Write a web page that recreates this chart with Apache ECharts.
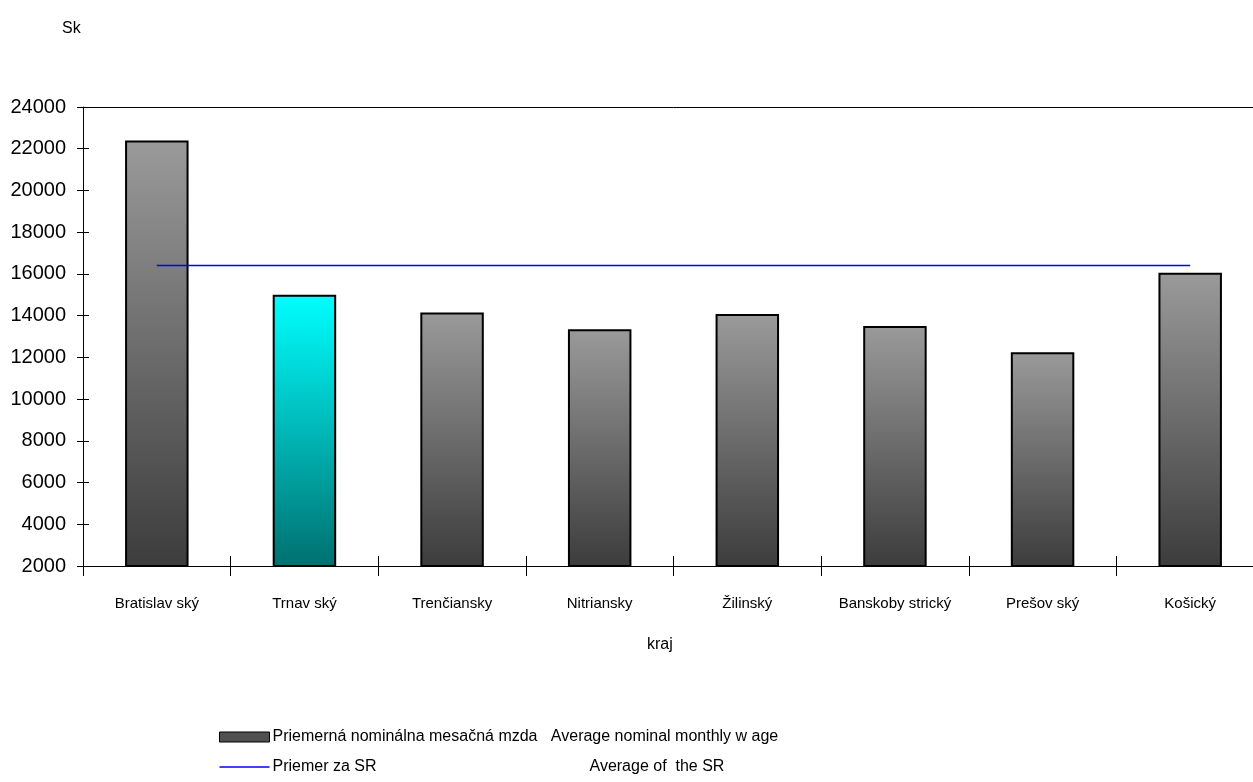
<!DOCTYPE html>
<html><head><meta charset="utf-8">
<script src="https://cdn.jsdelivr.net/npm/echarts@6/dist/echarts.min.js"></script>
<style>html,body{margin:0;padding:0;background:#fff;overflow:hidden;width:1253px;height:782px}#c{width:1264px;height:782px}</style>
</head><body><div id="c"></div>
<script>
const categories = ['Bratislav ský','Trnav ský','Trenčiansky','Nitriansky','Žilinský','Banskoby strický','Prešov ský','Košický'];
const wages = [22400, 15000, 14150, 13350, 14080, 13500, 12250, 16050];
const srAverage = [16400, 16400, 16400, 16400, 16400, 16400, 16400, 16400];
const yTicks = {min: 2000, max: 24000, interval: 2000};
const highlightIndex = 1;

const F = 'Liberation Sans, Arial, sans-serif';
const grayGrad = new echarts.graphic.LinearGradient(0,0,0,1,[{offset:0,color:'#9a9a9a'},{offset:1,color:'#3c3c3c'}]);
const cyanGrad = new echarts.graphic.LinearGradient(0,0,0,1,[{offset:0,color:'#00ffff'},{offset:1,color:'#007070'}]);
const barData = wages.map((v,i)=> i===highlightIndex ? {value:v, itemStyle:{color:cyanGrad}} : v);

const chart = echarts.init(document.getElementById('c'));
chart.setOption({
  animation:false,
  backgroundColor:'#fff',
  textStyle:{fontFamily:F},
  grid:{left:83,right:0,top:107,bottom:216,containLabel:false},
  graphic:[
    {type:'text',left:62,top:21,style:{text:'Sk',font:'16px '+F,fill:'#000'}},
    {type:'text',left:647,top:637,style:{text:'kraj',font:'16px '+F,fill:'#000'}}
  ],
  xAxis:[
    {type:'category',data:categories,position:'bottom',
     axisLine:{lineStyle:{color:'#000',width:1}},
     axisTick:{show:true,length:10,lineStyle:{color:'#000'}},
     axisLabel:{color:'#000',fontSize:15,margin:30,fontFamily:F,interval:0}},
    {type:'category',data:categories,position:'bottom',
     axisLine:{show:false},axisTick:{show:true,inside:true,length:10,lineStyle:{color:'#000'}},axisLabel:{show:false}},
    {type:'category',data:categories,position:'top',
     axisLine:{show:true,lineStyle:{color:'#000',width:1}},axisTick:{show:false},axisLabel:{show:false}}
  ],
  yAxis:[
    {type:'value',position:'left',min:yTicks.min,max:yTicks.max,interval:yTicks.interval,
     axisLine:{show:true,lineStyle:{color:'#000'}},
     axisTick:{show:true,length:6,lineStyle:{color:'#000'}},
     axisLabel:{color:'#000',fontSize:20,margin:17,fontFamily:F,formatter:function(v){return String(v);}},
     splitLine:{show:false}},
    {type:'value',position:'left',offset:0,min:yTicks.min,max:yTicks.max,interval:yTicks.interval,
     axisLine:{show:false},axisTick:{show:true,inside:true,length:6,lineStyle:{color:'#000'}},
     axisLabel:{show:false},splitLine:{show:false}}
  ],
  legend:[
    {orient:'vertical',left:214,top:724,itemGap:14,itemWidth:50,itemHeight:10,
     textStyle:{fontSize:16,color:'#000',fontFamily:F,padding:[0,0,0,-2],
       rich:{a:{fontSize:16,fontFamily:F,color:'#000'},b:{fontSize:16,fontFamily:F,color:'#000',width:317}}},
     data:[
       {name:'bar',icon:'rect',itemStyle:{color:'#505050',borderColor:'#000',borderWidth:1}},
       {name:'line',icon:'path://M0,0 L100,0 L100,3 L0,3 Z',itemStyle:{color:'#0000ff'}}
     ],
     formatter:function(n){
       if(n==='bar') return 'Priemerná nominálna mesačná mzda   Average nominal monthly w age';
       return '{b|Priemer za SR}{a|Average of  the SR}';
     }}
  ],
  series:[
    {name:'bar',type:'bar',data:barData,barWidth:'43%',
     itemStyle:{color:grayGrad,borderColor:'#000',borderWidth:2}},
    {name:'line',type:'line',data:srAverage,symbol:'none',
     lineStyle:{color:'#0000ff',width:1.5},itemStyle:{color:'#0000ff'}}
  ]
});
</script></body></html>
